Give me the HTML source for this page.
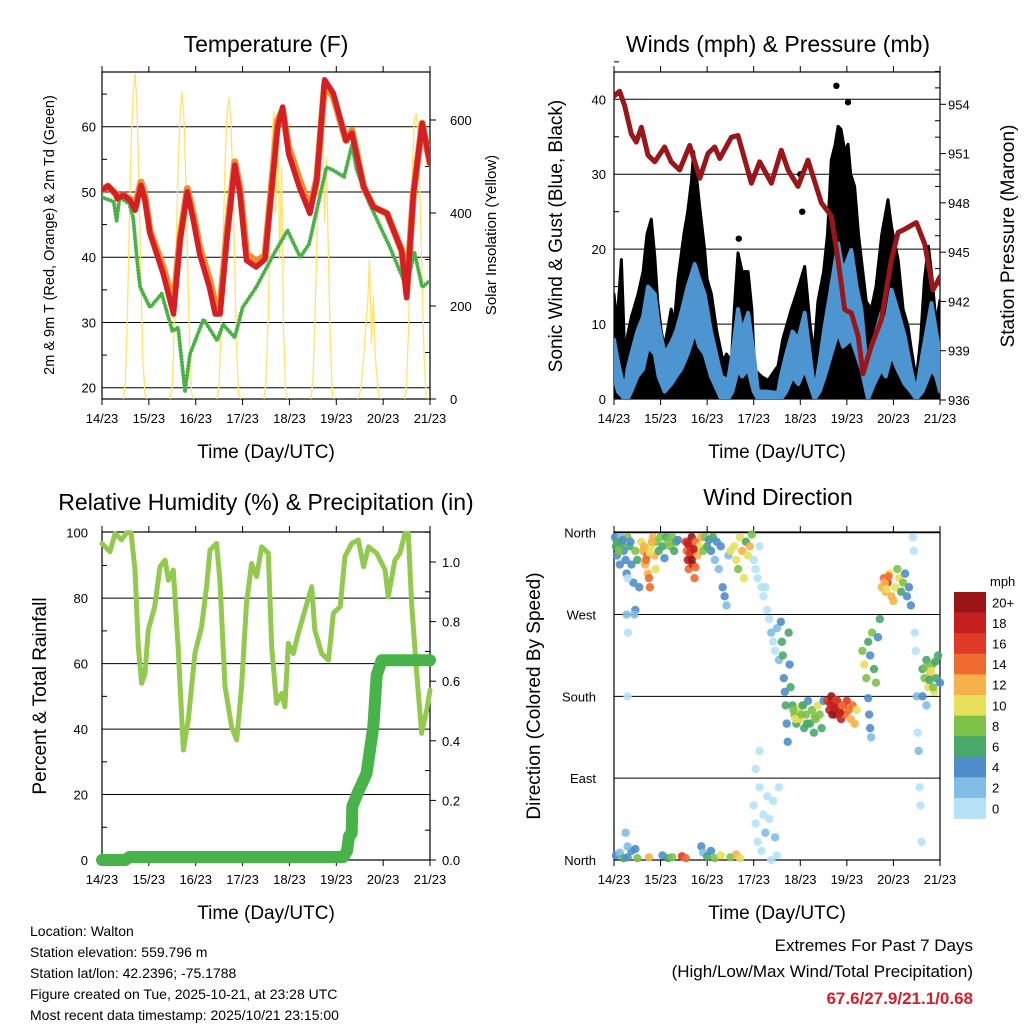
<!DOCTYPE html>
<html><head><meta charset="utf-8"><style>
html,body{margin:0;padding:0;background:#fff;}
svg{display:block;font-family:"Liberation Sans",sans-serif;}
</style></head><body>
<svg id="fig" width="1024" height="1024" viewBox="0 0 1024 1024" xmlns="http://www.w3.org/2000/svg">
<defs>
<clipPath id="clipWind"><rect x="614" y="72" width="326" height="327"/></clipPath>
<clipPath id="clipTemp"><rect x="102" y="72" width="328" height="327"/></clipPath>
</defs>
<rect width="1024" height="1024" fill="#fff"/>
<g id="layer"></g>
<g font-size="14" fill="#000">
<text x="30" y="936">Location: Walton</text>
<text x="30" y="957">Station elevation: 559.796 m</text>
<text x="30" y="978">Station lat/lon: 42.2396; -75.1788</text>
<text x="30" y="999">Figure created on Tue, 2025-10-21, at 23:28 UTC</text>
<text x="30" y="1020">Most recent data timestamp: 2025/10/21 23:15:00</text>
</g>
<g text-anchor="end">
<text x="973" y="951" font-size="17">Extremes For Past 7 Days</text>
<text x="973" y="977" font-size="17">(High/Low/Max Wind/Total Precipitation)</text>
<text x="973" y="1004" font-size="17" font-weight="bold" fill="#d0202c">67.6/27.9/21.1/0.68</text>
</g>
</svg>
<script>
// ---------- DATA ----------
const dayLabels=["14/23","15/23","16/23","17/23","18/23","19/23","20/23","21/23"];
const tempT=[0,3,7,8,11,14.4,17,20,22,24.6,28,31.4,36.6,40,43.7,46.8,50,55,58,60.5,64,68,70.7,74,79,83.5,87,90,92.5,95.5,101,106.5,110,114,118.5,125,128,134,139,146,153.5,156,159.5,164,168];
const tempRed=[50.3,50.9,49.7,49,49.5,48.7,47.2,51,48.7,43.6,40.5,37.4,31.3,42.6,50,45.6,40.5,35.4,31.3,31.3,43,54.1,49.7,39.5,38.5,39.7,50.8,60,63,55.9,50.8,46.7,51.8,67.2,65.1,57.9,59,50.8,47.7,46.7,41,33.8,49.7,60.5,54.4];
const tempOrange=[50.3,50.9,49.7,49,49.5,48.9,48,51.5,49.3,44,41.2,38.4,32.6,43,50.5,46.5,41.5,36.6,32.8,32.4,43.8,54.6,50.5,40.5,39.4,40.2,51.5,61,62.5,56.9,52,47.5,52,66.5,64.6,57.9,59.4,50.8,47.7,46.7,41,34.5,49.7,60.5,54.4];
const dewT=[0,6,7.5,9,14,16,18,19.5,24.6,30.6,36,39,42.5,45,52,59,62,68,72,79,88,95,101.5,106,115,118.5,124,128,130.5,137,147.5,156,160,164,168];
const dewV=[49.2,48.5,45.6,49.2,48.2,46,39.5,35.4,32.3,34.4,28.7,29.2,19.5,25.1,30.5,27.2,29.7,27.7,32.3,35.4,40.5,44.1,40,42,53.8,53.3,52.3,57.2,53.3,48.2,41.5,35.4,40.8,35.4,36.4];
const solarStartHour=11;
const solarDays=[
 [0,40,180,380,560,660,700,620,450,250,80,10,0],
 [0,30,150,330,500,610,660,600,460,270,90,10,0],
 [0,30,150,330,500,610,650,600,470,280,100,10,0],
 [0,40,160,350,560,620,400,600,300,500,150,20,0],
 [0,40,150,330,480,560,620,380,520,300,120,10,0],
 [0,10,40,90,150,200,300,120,220,90,40,5,0],
 [0,30,150,330,500,600,615,560,420,250,90,10,0]];
const tempTicks=[20,30,40,50,60];
const solarTicks=[0,200,400,600];

const gustT=[0,1.5,3.8,5.5,7.2,9,12.4,15,17,19.2,21,22.5,24.4,26,29.5,31,33,36,38,39.9,41,42.4,44,46.7,48,50.2,53,56.2,58,60.5,62,63.9,66,69.1,71,72.5,76,79.4,82,84.5,87,91.4,94,98.3,101,103,105.1,108,110,112,114,115.5,117,119,120.6,122,124,126,127.5,130,132.6,135,138,141.2,143,146.4,149,151.5,153,155.8,158,160,162,164,166,168];
const gustV=[14,10,18.6,6,8.8,11,14,17,22,24,19,13,9,7,12,10,16,22,25,29,33,30,26,20,16,14,9,5,6,5,12,19.5,17,17,12,3.9,3,2.5,3.5,4.4,8,12,14,17.7,10,6,13,17,22,31.9,34,36.4,36,33,34,30,28.4,22,18.6,13,12,15,22,26.6,23,18.6,12,9.7,7,2.6,8,16,20.4,16,10,13.2];
const gustOutT=[114.6,120.6,64.3,96,97];
const gustOutV=[41.8,39.6,21.4,30,25];
const windT=[0,2,5.5,7,8.9,12,15,17.5,21,23,26.1,29.5,32,34.7,38,41.6,44,46.7,50,55.3,58.8,61,63.9,66,69.1,72,74.2,78,84.5,86,88.8,92,95,98.3,103.4,106,108.6,112,115.5,118,122.3,125,127.5,130.9,134,137.8,140,143,146,149.8,153,155.8,159,163.6,166,168];
const windHi=[7.9,5,1,4,6,9,11,15,14,10,6,7.5,9,11.5,15,18,16,14,9,3,2.5,6,12,9,11.5,6,1,1,0.8,3,6,9,8,11.5,0.8,5,9.7,15,20.8,17,19.9,15,11.9,2.6,8,11.5,10,14.6,12,8.4,4,0.8,6,12.8,9,6];
const windLo=[3,1,0,0,1,3,4,7,6,3,1,2,3,4,6,9,7,6,3,0,0,1,4,3,4,1,0,0,0,0,1,3,2,4,0,1,3,6,9,7,8,6,4,0,2,4,3,6,4,2,1,0,1,4,3,1];
const presT=[0,2.9,5.5,8.9,11.5,14.1,17.5,21,26.1,29.5,33.8,39,44.2,48.4,51.9,54.5,60.5,63.9,70.8,75.1,81.1,86.2,89.7,94.8,100,106.9,112,115.5,118.9,122.3,125.8,128.3,132.6,137.8,142.9,146.4,149.8,155.8,160.1,164.4,168];
const presV=[954.5,954.8,953.9,952.2,951.7,952.6,950.9,950.5,951.4,950.5,950,951.5,949.5,951,951.4,950.7,952,952.1,949.2,950.5,949.2,951.2,950,949,950.6,948,947.2,944.5,941.5,941.3,939.9,937.6,939.3,940.9,944.5,946.2,946.4,946.8,945.5,942.7,943.5];
const windTicks=[0,10,20,30,40];
const presTicks=[936,939,942,945,948,951,954];

const rhT=[0,4.1,6.7,10,12.6,14.9,16.9,18.6,20.3,22,23.7,27,29.7,32.3,34,36.5,39,41.7,44.2,47.6,51,53.6,55.3,58.7,60.4,63,66.4,69,71.5,74,76.6,79.2,81.8,85.2,86.9,89.4,92,93.7,95.4,98,100.5,104,107.4,109,112.5,116,118.5,122,124.4,127.9,131.3,134,136.5,140.7,145,146.6,150,152.6,155.2,156.9,158.6,161.1,163.7,166.3,168];
const rhV=[96.7,94.2,99.8,97.8,100,100,88.6,65.2,54,57,70.3,77.4,89.6,91.6,85.5,88.6,65.2,33.6,42.8,63.1,71.3,83.5,94.7,96.7,85.5,53,40.7,36.7,53,78.4,90.6,86.6,95.7,93.7,65.2,47.9,50.9,46.8,66.2,63.1,69.2,76.4,83.5,70.3,63.1,61.1,75.4,77.4,92.7,96.7,97.8,89.6,95.7,93.7,88.6,80.4,91.6,93.7,99.8,99.8,78.4,58,38.7,45.8,51.9];
const precipT=[0,12,14,123.6,125.5,126.5,127.9,128.2,131.3,135.5,139,140.7,143.2,168];
const precipV=[0,0,0.01,0.01,0.03,0.08,0.09,0.18,0.23,0.29,0.45,0.62,0.67,0.67];
const rhTicks=[0,20,40,60,80,100];
const precipTicks=[0,0.2,0.4,0.6,0.8,1.0];

const dirNames=["North","East","South","West","North"];
const dirTickVals=[0,90,180,270,360];
const speedBins=[0,2,4,6,8,10,12,14,16,18,20];
const speedLabels=["0","2","4","6","8","10","12","14","16","18","20+"];
const speedColors=["#b5e2f7","#82bde6","#4f8ecb","#4aa86a","#7ec24a","#e6e05a","#f8b04a","#ef6b2f","#de3a26","#c4201f","#9a1517"];
const dirT=[0.5,1,1.5,2,2.5,3,3.5,4,5,6,6.5,7,8,8.5,9,10,11,12,13,14,15,16,17,17.5,18,18.5,19,20,21,21.5,22,23,24,25,26,27,28,29,30,31,32,33,
37,37.5,38,38.5,39,39.5,40,40.5,41,41.5,42,43,44,45,46,47,48,49,50,51,52,53,54,55,56,57,58,59,60,62,63,64,65,66,67,68,69,70,71,
72,73,74,75,76,77,78,79,80,81,82,83,84,85,72,73,74,75,76,77,78,79,80,81,82,83,84,85,73,75,
86,86.5,87,87.5,88,88.5,89,89.5,90,90.5,91,92,93,94,95,96,97,98,99,100,101,102,103,104,105,106,107,108,
110,111,112,113,114,115,116,117,118,119,120,121,122,123,124,125,131,131.5,132,132.5,
128,129,130,131,132,133,134,135,136,137,138,139,140,141,142,143,144,145,146,147,148,149,150,151,152,153,
154,154.5,155,155.5,156,156.5,157,157.5,158,158.5,159,160,161,162,163,164,165,166,167,168,159,161,
1,3,5,7,9,12,18,25,28,30,35,37,45,46,48,50,52,55,60,63,65,6,7,11,7,6.5,7.2,7,11,10.5,
1.5,2.5,4.5,15.5,16.5,18.5,19.5,38,39,40,41,42,92.5,93.5,96.5,97.5,99.5,103.5,111.5,112.5,113.5,114.5,116.5,117.5,139.5,140.5,141.5,160.5,162.5,163.5,164.5,165.5];
const dirD=[355,345,335,350,340,325,355,348,340,330,315,355,345,350,325,305,340,330,300,350,340,325,335,315,310,300,345,355,335,320,350,340,355,345,332,355,350,345,355,340,350,352,
350,340,330,320,345,335,355,325,340,310,350,335,345,355,340,355,345,352,340,355,330,350,320,345,300,290,280,335,340,345,330,320,355,340,310,350,335,345,358,
330,320,310,345,300,290,300,275,265,250,240,230,255,220,60,40,20,80,10,50,30,70,45,0,65,25,5,80,100,120,
262,240,225,200,185,170,150,130,250,215,190,170,160,150,165,155,170,145,160,175,150,165,140,155,170,160,145,175,
175,165,180,170,160,175,165,155,170,160,175,165,155,170,150,165,178,160,145,135,
230,215,200,240,225,250,210,195,245,265,300,310,295,305,315,290,285,300,320,310,295,305,315,290,300,280,
355,340,250,230,180,140,120,80,60,20,210,200,220,190,205,215,185,200,225,195,180,170,
5,8,2,3,10,2,3,5,2,3,4,2,15,8,4,10,2,5,3,6,2,30,15,12,310,270,250,180,275,270,
350,340,352,345,330,338,350,348,338,330,342,322,165,155,160,170,150,158,172,160,168,176,162,170,305,298,312,212,198,208,190,218];
const dirS=[4,6,4,8,6,4,2,6,4,4,4,8,6,4,4,4,8,6,4,10,12,12,14,12,14,14,10,12,12,10,8,6,8,6,4,6,8,8,8,6,6,4,
16,14,18,14,16,18,20,18,16,14,14,12,10,12,8,8,6,4,4,6,2,4,2,4,4,4,2,2,10,10,10,8,10,12,10,6,10,12,8,
0,0,0,0,0,0,0,0,0,2,0,0,2,2,0,0,0,0,0,0,2,0,0,0,0,2,0,0,0,0,
4,6,6,4,4,6,4,4,6,4,6,6,8,6,10,10,8,6,8,4,6,8,6,8,10,8,6,4,
16,18,20,20,18,20,20,18,16,14,16,14,12,14,12,10,4,4,4,2,
8,10,8,6,4,8,6,8,4,6,12,14,12,16,10,12,12,10,8,10,6,8,4,4,4,4,
0,0,0,0,2,0,2,0,0,0,6,8,6,10,12,8,10,6,6,4,4,2,
4,2,6,4,4,8,12,4,6,8,16,14,4,2,6,4,8,10,8,12,10,2,2,4,0,2,0,0,4,2,
6,8,4,12,14,10,12,18,16,20,18,14,8,10,8,6,6,8,18,20,18,16,18,14,12,10,14,8,6,10,8,6];

// ---------- DRAWING ----------
const NS="http://www.w3.org/2000/svg";
const layer=document.getElementById('layer');
function mk(tag,attrs,parent){const e=document.createElementNS(NS,tag);for(const k in attrs)e.setAttribute(k,attrs[k]);(parent||layer).appendChild(e);return e;}
function txt(s,attrs,parent){const e=mk('text',attrs,parent);e.textContent=s;return e;}
function lin(a,b,c,d){return (v)=>c+(v-a)/(b-a)*(d-c);}
function pts(ts,vs,sx,sy){return ts.map((t,i)=>sx(t).toFixed(1)+','+sy(vs[i]).toFixed(1)).join(' ');}

function frame(P,name){
  const g=mk('g',{});
  
  
  const sx=lin(0,168,P.x0,P.x1);
  dayLabels.forEach((d,i)=>{
    const x=sx(i*24);
    const tk=mk('line',{x1:x,x2:x,y1:P.y1,y2:P.y1+6,stroke:'#000','stroke-width':1},g);
    
    
    mk('line',{x1:x,x2:x,y1:P.y0,y2:P.y0-6,stroke:'#000','stroke-width':1},g);
    const t=txt(d,{x:x,y:P.y1+24,'font-size':13,'text-anchor':'middle'},g);
    
    
  });
  const xt=txt('Time (Day/UTC)',{x:(P.x0+P.x1)/2,y:P.y1+59,'font-size':19,'text-anchor':'middle'},g);
  
  
  return {g,sx};
}
function border(P,g){const r=mk('rect',{x:P.x0,y:P.y0,width:P.x1-P.x0,height:P.y1-P.y0,fill:'none',stroke:'#000','stroke-width':1.2},g);}
function title(s,x,y,name){const t=txt(s,{x:x,y:y,'font-size':23,'text-anchor':'middle'});}
function ytitle(s,x,y,size,name){const t=txt(s,{x:x,y:y,'font-size':size,'text-anchor':'middle',transform:`rotate(-90 ${x} ${y})`});}

// ===== Panel 1: Temperature =====
{
const P={x0:102,x1:430,y0:72,y1:399};
const {g,sx}=frame(P,'temperature');
const sy=lin(20,60,387.7,126.7);
const sys=lin(0,600,399,120);
tempTicks.forEach(v=>{
  const gl=mk('line',{x1:P.x0,x2:P.x1,y1:sy(v),y2:sy(v),stroke:'#000','stroke-width':1},g);
  
  const t=txt(v,{x:P.x0-6,y:sy(v)+5,'font-size':13,'text-anchor':'end'},g);
  
  mk('line',{x1:P.x0,x2:P.x0+5,y1:sy(v+5),y2:sy(v+5),stroke:'#000'},g);
});
solarTicks.forEach(v=>{
  const t=txt(v,{x:P.x1+20,y:sys(v)+5,'font-size':13},g);
  
  mk('line',{x1:P.x1,x2:P.x1+6,y1:sys(v),y2:sys(v),stroke:'#000'},g);
  if(v<600) mk('line',{x1:P.x1,x2:P.x1-5,y1:sys(v+100),y2:sys(v+100),stroke:'#000'},g);
});
const cg=mk('g',{'clip-path':'url(#clipTemp)'});


solarDays.forEach((day,d)=>{
  const ts=day.map((v,i)=>d*24+solarStartHour+i);
  const p=mk('polyline',{points:pts(ts,day,sx,sys),fill:'none',stroke:'#ffe36e','stroke-width':1.3},cg);
  
  
});
const po=mk('polyline',{points:pts(tempT,tempOrange,sx,sy),fill:'none',stroke:'#f28a2e','stroke-width':7,'stroke-linejoin':'round','stroke-linecap':'round'},cg);

const pg=mk('polyline',{points:pts(dewT,dewV,sx,sy),fill:'none',stroke:'#4cb048','stroke-width':4,'stroke-dasharray':'0 3.2','stroke-linecap':'round'},cg);

const pr=mk('polyline',{points:pts(tempT,tempRed,sx,sy),fill:'none',stroke:'#d41f26','stroke-width':5.5,'stroke-linejoin':'round','stroke-linecap':'round'},cg);

border(P,g);
title('Temperature (F)',266,52,'temperature-title');
ytitle('2m & 9m T (Red, Orange) & 2m Td (Green)',54,235,14.5,'temperature-y-title');
ytitle('Solar Insolation (Yellow)',496,235,15,'solar-y-title');
}

// ===== Panel 2: Winds & Pressure =====
{
const P={x0:614,x1:940,y0:72,y1:399};
const {g,sx}=frame(P,'winds');
const sy=lin(0,40,399,99.3);
const syp=lin(936,954,400,104.3);
windTicks.forEach(v=>{
  const gl=mk('line',{x1:P.x0,x2:P.x1,y1:sy(v),y2:sy(v),stroke:'#000','stroke-width':1},g);
  
  const t=txt(v,{x:P.x0-8,y:sy(v)+5,'font-size':13,'text-anchor':'end'},g);
  
  mk('line',{x1:P.x0,x2:P.x0+5,y1:sy(v+5),y2:sy(v+5),stroke:'#000'},g);
});
presTicks.forEach(v=>{
  const t=txt(v,{x:P.x1+8,y:syp(v)+5,'font-size':13},g);
  
  mk('line',{x1:P.x1,x2:P.x1+6,y1:syp(v),y2:syp(v),stroke:'#000'},g);
  mk('line',{x1:P.x1,x2:P.x1-5,y1:syp(v+1),y2:syp(v+1),stroke:'#000'},g);
  mk('line',{x1:P.x1,x2:P.x1-5,y1:syp(v+2),y2:syp(v+2),stroke:'#000'},g);
});
const cg=mk('g',{'clip-path':'url(#clipWind)'});


const gp=pts(gustT,gustV,sx,sy)+' '+sx(168)+','+sy(0)+' '+sx(0)+','+sy(0);
const gb=mk('polygon',{points:gp,fill:'#000',stroke:'#000','stroke-width':3,'stroke-linejoin':'round'},cg);

gustOutT.forEach((t,i)=>{
  const c=mk('circle',{cx:sx(t),cy:sy(gustOutV[i]),r:3.2,fill:'#000'},cg);
  
});
const revT=windT.slice().reverse(), revLo=windLo.slice().reverse();
const bp=pts(windT,windHi,sx,sy)+' '+pts(revT,revLo,sx,sy);
const bb=mk('polygon',{points:bp,fill:'#4d95d0',stroke:'#4d95d0','stroke-width':4,'stroke-linejoin':'round'},cg);

const pl=mk('polyline',{points:pts(presT,presV,sx,syp),fill:'none',stroke:'#99161b','stroke-width':5,'stroke-linejoin':'round','stroke-linecap':'round'},cg);

border(P,g);
title('Winds (mph) & Pressure (mb)',778,52,'winds-title');
ytitle('Sonic Wind & Gust (Blue, Black)',562,236,19,'winds-y-title');
ytitle('Station Pressure (Maroon)',1014,236,19,'pressure-y-title');
}

// ===== Panel 3: RH & Precip =====
{
const P={x0:102,x1:430,y0:532,y1:860};
const {g,sx}=frame(P,'humidity');
const sy=lin(0,100,860,532.7);
const syp=lin(0,1,860,562);
rhTicks.forEach(v=>{
  if(v>0&&v<100){const gl=mk('line',{x1:P.x0,x2:P.x1,y1:sy(v),y2:sy(v),stroke:'#000','stroke-width':1},g);
  }
  const t=txt(v,{x:P.x0-14,y:sy(v)+5,'font-size':13,'text-anchor':'end'},g);
  
  if(v<100) mk('line',{x1:P.x0,x2:P.x0+5,y1:sy(v+10),y2:sy(v+10),stroke:'#000'},g);
});
precipTicks.forEach(v=>{
  const t=txt(v.toFixed(1),{x:P.x1+12,y:syp(v)+5,'font-size':13},g);
  
  mk('line',{x1:P.x1,x2:P.x1+6,y1:syp(v),y2:syp(v),stroke:'#000'},g);
  mk('line',{x1:P.x1,x2:P.x1-5,y1:syp(v+0.1),y2:syp(v+0.1),stroke:'#000'},g);
});
const pr=mk('polyline',{points:pts(rhT,rhV,sx,sy),fill:'none',stroke:'#92c94e','stroke-width':5,'stroke-linejoin':'round','stroke-linecap':'round'});

const pp=mk('polyline',{points:pts(precipT,precipV,sx,syp),fill:'none',stroke:'#48b348','stroke-width':12,'stroke-linejoin':'round','stroke-linecap':'round'});

border(P,g);
title('Relative Humidity (%) & Precipitation (in)',266,510,'humidity-title');
ytitle('Percent & Total Rainfall',46,696,19,'humidity-y-title');
}

// ===== Panel 4: Wind Direction =====
{
const P={x0:614,x1:940,y0:532,y1:860};
const {g,sx}=frame(P,'wind-direction');
const sy=lin(0,360,860,532.7);
dirTickVals.forEach((v,i)=>{
  const gl=mk('line',{x1:P.x0,x2:P.x1,y1:sy(v),y2:sy(v),stroke:'#000','stroke-width':1},g);
  
  const t=txt(dirNames[i],{x:P.x0-18,y:sy(v)+5,'font-size':13,'text-anchor':'end'},g);
  
});
function colorFor(s){let k=0;speedBins.forEach((b,i)=>{if(s>=b-1)k=i;});return speedColors[k];}
dirT.forEach((t,i)=>{
  const c=mk('circle',{cx:sx(t),cy:sy(dirD[i]),r:4.2,fill:colorFor(dirS[i]),'fill-opacity':0.9});
  
  
});
border(P,g);
title('Wind Direction',778,505,'wind-direction-title');
ytitle('Direction (Colored By Speed)',540,696,19,'wind-direction-y-title');
const cb=mk('g',{});


const top=592,bh=20.6;
for(let i=0;i<speedColors.length;i++){
  const idx=speedColors.length-1-i;
  const r=mk('rect',{x:954,y:top+i*bh,width:32,height:bh+0.3,fill:speedColors[idx]},cb);
  
  const t=txt(speedLabels[idx],{x:992,y:top+i*bh+bh/2+5,'font-size':13},cb);
  
}
const u=txt('mph',{x:990,y:586,'font-size':13},cb);

}
</script>
</body></html>
